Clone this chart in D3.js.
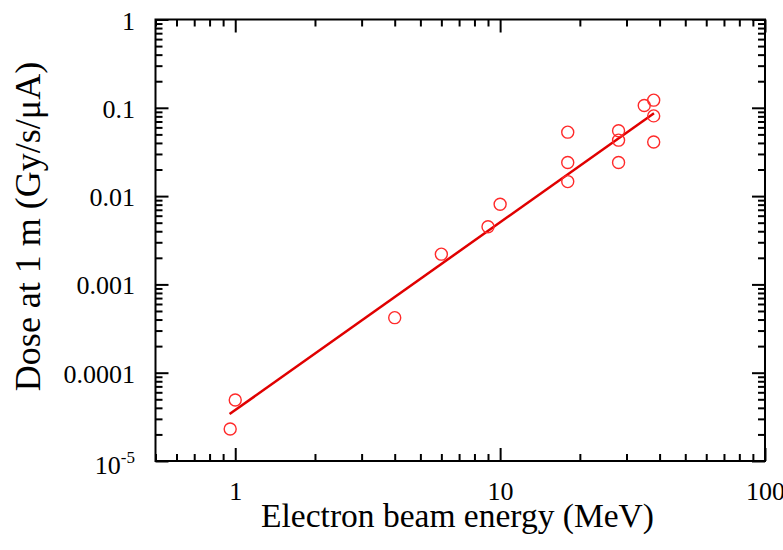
<!DOCTYPE html>
<html>
<head>
<meta charset="utf-8">
<script src="https://cdn.jsdelivr.net/npm/d3@7"></script>
</head>
<body style="margin:0;background:#fff">
<svg id="chart" width="783" height="550" style="display:block"></svg>
<script>
// ---- data ----
const energy = [0.957, 1.0, 4, 6, 9, 10, 18, 18, 18, 28, 28, 28, 35, 38, 38, 38];
const dose   = [2.3e-5, 4.9e-5, 4.2e-4, 2.2e-3, 4.5e-3, 8.1e-3, 0.053, 0.024, 0.0146, 0.055, 0.043, 0.024, 0.106, 0.122, 0.081, 0.041];
const fitEnergy = [0.952, 38.1];
const fitDose   = [3.4e-5, 0.0867];
const xTickValues = [1, 10, 100];
const xTickLabels = ["1", "10", "100"];
const yTickValues = [1e-5, 1e-4, 1e-3, 1e-2, 1e-1, 1];
const yTickLabels = ["10^-5", "0.0001", "0.001", "0.01", "0.1", "1"];
const xTitle = "Electron beam energy (MeV)";
const yTitle = "Dose at 1 m (Gy/s/μA)";

const FONT = "Liberation Serif";
const svg = d3.select("#chart");
const L = 155.5, R = 765, T = 19.5, B = 461;
const x = d3.scaleLog().domain([0.5, 100]).range([L, R]);
const y = d3.scaleLog().domain([1e-5, 1]).range([B, T]);

function minorTicks(domain) {
  const out = [];
  const lo = Math.floor(Math.log10(domain[0])), hi = Math.ceil(Math.log10(domain[1]));
  for (let e = lo; e < hi; e++) for (let m = 2; m <= 9; m++) {
    const v = m * Math.pow(10, e);
    if (v >= domain[0] * 0.999 && v <= domain[1] * 1.001) out.push(v);
  }
  return out;
}
const xMinor = minorTicks(x.domain());
const yMinor = minorTicks(y.domain());
const MAJ = 13, MIN = 7;

function styleAxis(g) {
  g.attr("font-family", FONT).attr("font-size", 26);
  g.select(".domain").remove();
  g.selectAll(".tick line").attr("stroke", "#000").attr("stroke-width", 2);
  g.selectAll(".tick text").attr("font-family", FONT).attr("font-size", 26).attr("fill", "#000");
}

// bottom
const gB = svg.append("g").attr("transform", `translate(0,${B})`);
gB.call(d3.axisBottom(x).tickValues(xTickValues).tickSize(-MAJ).tickPadding(0)
  .tickFormat((d, i) => xTickLabels[i])).call(styleAxis);
gB.selectAll(".tick text").attr("y", 38.5).attr("dy", 0);
svg.append("g").attr("transform", `translate(0,${B})`)
  .call(d3.axisBottom(x).tickValues(xMinor).tickSize(-MIN).tickFormat("")).call(styleAxis);
// top
svg.append("g").attr("transform", `translate(0,${T})`)
  .call(d3.axisTop(x).tickValues(xTickValues).tickSize(-MAJ).tickFormat("")).call(styleAxis);
svg.append("g").attr("transform", `translate(0,${T})`)
  .call(d3.axisTop(x).tickValues(xMinor).tickSize(-MIN).tickFormat("")).call(styleAxis);
// left
const gL = svg.append("g").attr("transform", `translate(${L},0)`);
gL.call(d3.axisLeft(y).tickValues(yTickValues).tickSize(-MAJ).tickPadding(20.5)
  .tickFormat((d, i) => yTickLabels[i])).call(styleAxis);
gL.selectAll(".tick text").attr("dy", 9.5)
  .each(function(d, i) {
    const lab = yTickLabels[i];
    if (lab.includes("^")) {
      const [base, sup] = lab.split("^");
      const t = d3.select(this).text("").attr("dy", 12);
      t.append("tspan").text(base);
      t.append("tspan").text(sup).attr("font-size", 17).attr("dy", -11);
    }
  });
svg.append("g").attr("transform", `translate(${L},0)`)
  .call(d3.axisLeft(y).tickValues(yMinor).tickSize(-MIN).tickFormat("")).call(styleAxis);
// right
svg.append("g").attr("transform", `translate(${R},0)`)
  .call(d3.axisRight(y).tickValues(yTickValues).tickSize(-MAJ).tickFormat("")).call(styleAxis);
svg.append("g").attr("transform", `translate(${R},0)`)
  .call(d3.axisRight(y).tickValues(yMinor).tickSize(-MIN).tickFormat("")).call(styleAxis);

// frame
svg.append("rect").attr("x", L).attr("y", T).attr("width", R - L).attr("height", B - T)
  .attr("fill", "none").attr("stroke", "#000").attr("stroke-width", 2);

// fit line
const line = d3.line().x(d => x(d[0])).y(d => y(d[1]));
svg.append("path").datum(fitEnergy.map((e, i) => [e, fitDose[i]]))
  .attr("d", line).attr("fill", "none").attr("stroke", "#e00000").attr("stroke-width", 2.5);

// points
svg.append("g").selectAll("circle").data(energy.map((e, i) => [e, dose[i]])).join("circle")
  .attr("cx", d => x(d[0])).attr("cy", d => y(d[1])).attr("r", 6)
  .attr("fill", "none").attr("stroke", "#ff2a2a").attr("stroke-width", 1.4);

// titles
svg.append("text").attr("x", 457.5).attr("y", 527).attr("text-anchor", "middle")
  .attr("font-family", FONT).attr("font-size", 33.5).attr("fill", "#000").text(xTitle);
svg.append("text").attr("transform", "translate(40,226.5) rotate(-90)").attr("text-anchor", "middle")
  .attr("font-family", FONT).attr("font-size", 36).attr("fill", "#000").text(yTitle);
</script>
</body>
</html>
